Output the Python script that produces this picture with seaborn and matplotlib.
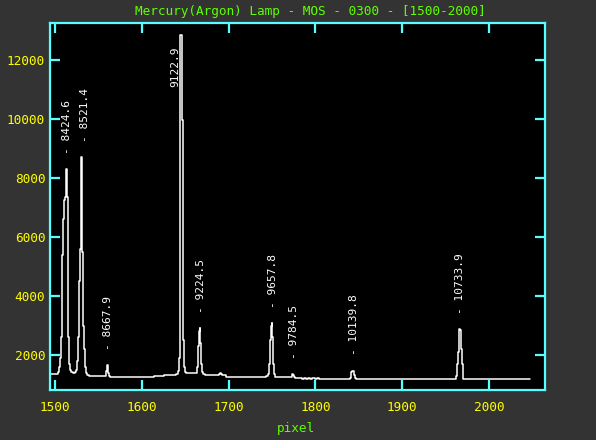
import numpy as np
import pandas as pd
import matplotlib
matplotlib.use("Agg")
import matplotlib.pyplot as plt
import seaborn as sns

# spectrum (pixel, counts)
pixels = [1494, 1500, 1503, 1504, 1505, 1506, 1507, 1508, 1509, 1510, 1511, 1512, 1513, 1514,
          1515, 1516, 1517, 1518, 1519, 1520, 1522, 1524, 1525, 1526, 1527, 1528, 1529, 1530,
          1531, 1532, 1533, 1534, 1535, 1536, 1537, 1538, 1540, 1545, 1550, 1557, 1558, 1559,
          1560, 1561, 1562, 1563, 1564, 1570, 1580, 1590, 1600, 1610, 1617, 1619, 1622, 1630,
          1638, 1641, 1642, 1643, 1644, 1645, 1646, 1647, 1648, 1649, 1650, 1652, 1660, 1663,
          1664, 1665, 1666, 1667, 1668, 1669, 1670, 1671, 1675, 1682, 1688, 1690, 1691, 1692,
          1693, 1700, 1710, 1720, 1730, 1740, 1745, 1746, 1747, 1748, 1749, 1750, 1751, 1752,
          1753, 1754, 1760, 1768, 1772, 1773, 1774, 1775, 1776, 1777, 1780, 1783, 1785, 1788,
          1790, 1793, 1795, 1798, 1800, 1803, 1806, 1820, 1838, 1839, 1840, 1841, 1842, 1843,
          1844, 1845, 1846, 1847, 1848, 1900, 1961, 1962, 1963, 1964, 1965, 1966, 1967, 1968,
          1969, 1970, 1971, 1972, 2047]
counts = [1360, 1360, 1370, 1420, 1600, 1900, 2600, 3800, 5400, 6600, 7250, 7350, 8300, 7350,
          5000, 2600, 1700, 1480, 1430, 1420, 1400, 1420, 1500, 1800, 2600, 4500, 5600, 8700,
          8600, 5500, 3000, 2200, 1600, 1400, 1330, 1310, 1300, 1290, 1290, 1280, 1300, 1450,
          1660, 1620, 1400, 1290, 1260, 1250, 1245, 1240, 1250, 1260, 1290, 1300, 1280, 1310,
          1330, 1360, 1450, 1900, 6860, 12850, 12850, 9970, 2500, 1600, 1420, 1390, 1390, 1400,
          1600, 2300, 2800, 2920, 2400, 1700, 1420, 1350, 1330, 1320, 1320, 1350, 1380, 1370,
          1320, 1270, 1250, 1240, 1250, 1250, 1290, 1350, 1700, 2500, 3000, 3080, 2600, 1700,
          1350, 1270, 1250, 1240, 1240, 1290, 1350, 1330, 1260, 1230, 1210, 1230, 1190, 1220,
          1200, 1225, 1195, 1215, 1190, 1210, 1185, 1180, 1178, 1190, 1230, 1330, 1440, 1470,
          1450, 1330, 1220, 1185, 1176, 1176, 1176, 1180, 1300, 1700, 2100, 2880, 2850, 2200,
          1700, 1300, 1190, 1176, 1176]

# identified lines
line_labels = ["8424.6", "8521.4", "8667.9", "9122.9", "9224.5",
               "9657.8", "9784.5", "10139.8", "10733.9"]
label_pixels = [1514, 1534, 1561, 1638, 1668, 1751, 1775, 1844, 1967]

x_ticks = [1500, 1600, 1700, 1800, 1900, 2000]
y_ticks = [2000, 4000, 6000, 8000, 10000, 12000]

BG = "#333333"
CYAN = "#55ffff"
YELLOW = "#ffff00"
GREEN = "#60ff00"

sns.set_style("dark")
plt.rcParams["font.family"] = ["DejaVu Sans Mono", "DejaVu Sans"]

df = pd.DataFrame({"pixel": pixels, "counts": counts})

fig = plt.figure(figsize=(5.96, 4.40), dpi=100, facecolor=BG)
ax = fig.add_axes([50 / 596, 50 / 440, 495 / 596, 367 / 440])
ax.set_facecolor("black")

sns.lineplot(data=df, x="pixel", y="counts", ax=ax, color="white", lw=1.1,
             drawstyle="steps-mid", estimator=None, sort=False)

ax.set_xlim(1494.2, 2064.5)
ax.set_ylim(814, 13254)
ax.set_xticks(x_ticks)
ax.set_yticks(y_ticks)
ax.grid(False)

for s in ax.spines.values():
    s.set_color(CYAN)
    s.set_linewidth(1.6)
    s.set_visible(True)

ax.tick_params(axis="both", direction="in", color=CYAN, width=1.6, length=7.5,
               labelcolor=YELLOW, labelsize=9.2, top=True, right=True,
               bottom=True, left=True)
ax.tick_params(axis="x", pad=8)
ax.tick_params(axis="y", pad=3.5)
ax.set_xlabel("")
ax.set_ylabel("")

# line labels above each peak; ones that would run off the top hang from it
pix_arr = np.array(pixels)
cnt_arr = np.array(counts)
for lab, p in zip(line_labels, label_pixels):
    near = cnt_arr[np.abs(pix_arr - p) <= 7].max()
    if near > 11000:
        ax.text(p, 0.935, lab, rotation=90, ha="center", va="top", color="white",
                fontsize=8, transform=ax.get_xaxis_transform())
    else:
        ax.text(p, near + 520, "- " + lab, rotation=90, ha="center", va="bottom",
                color="white", fontsize=8)

fig.text(310 / 596, 1 - 11 / 440, "Mercury(Argon) Lamp - MOS - 0300 - [1500-2000]",
         ha="center", va="center", color=GREEN, fontsize=9.2)
fig.text(296 / 596, 1 - 428 / 440, "pixel", ha="center", va="center",
         color=GREEN, fontsize=9.2)

fig.savefig("out.png", dpi=100, facecolor=BG)
